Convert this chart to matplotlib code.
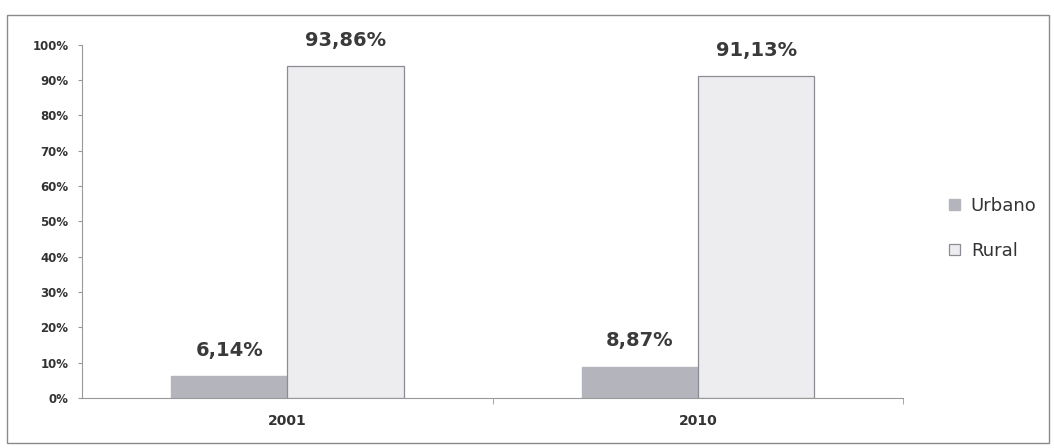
import matplotlib.pyplot as plt
import matplotlib.patches as patches
import numpy as np

# === Data ===
years = ["2001", "2010"]
urbano = [6.14, 8.87]
rural = [93.86, 91.13]
series_names = ["Urbano", "Rural"]
yticks = [0, 10, 20, 30, 40, 50, 60, 70, 80, 90, 100]

# === Figure ===
fig = plt.figure(figsize=(10.54, 4.48), dpi=100)
ax = fig.add_axes([0.078, 0.112, 0.779, 0.788])

# outer chart border
border = patches.Rectangle((0.007, 0.012), 0.988, 0.955, transform=fig.transFigure,
                           fill=False, edgecolor='#8a8a8a', linewidth=1.0)
fig.patches.append(border)

x = np.arange(len(years))
w = 0.283
b1 = ax.bar(x - w/2, urbano, w, color='#b4b4bc', edgecolor='#b4b4bc', label=series_names[0])
b2 = ax.bar(x + w/2, rural, w, color='#ededf0', edgecolor='#8c8c94', linewidth=0.9, label=series_names[1])

# value labels
for bars, vals in [(b1, urbano), (b2, rural)]:
    for bar, v in zip(bars, vals):
        ax.text(bar.get_x() + bar.get_width()/2, v + 4.6, f"{v:.2f}%".replace('.', ','),
                ha='center', va='bottom', fontsize=14, fontweight='bold', color='#3a3a3a')

ax.set_xlim(-0.5, 1.5)
ax.set_ylim(0, 100)
ax.set_yticks(yticks)
ax.set_yticklabels([f"{t}%" for t in yticks], fontsize=8.5, color='#333333', fontweight='semibold')
ax.set_xticks(x)
ax.set_xticklabels(years, fontsize=10, color='#333333', fontweight='semibold')
ax.set_xticks([0.5, 1.5], minor=True)
ax.tick_params(axis='x', which='major', length=0, pad=12)
ax.tick_params(axis='x', which='minor', length=4, color='#999999', direction='out')
ax.tick_params(axis='y', length=3, color='#999999', pad=7)

for side in ['top', 'right']:
    ax.spines[side].set_visible(False)
for side in ['left', 'bottom']:
    ax.spines[side].set_color('#999999')

leg = ax.legend(loc='center left', bbox_to_anchor=(1.036, 0.48), frameon=False,
                fontsize=13, handlelength=0.6, handleheight=0.6, handletextpad=0.6,
                labelspacing=1.5)
for t in leg.get_texts():
    t.set_color('#333333')

fig.savefig("out.png", dpi=100)
